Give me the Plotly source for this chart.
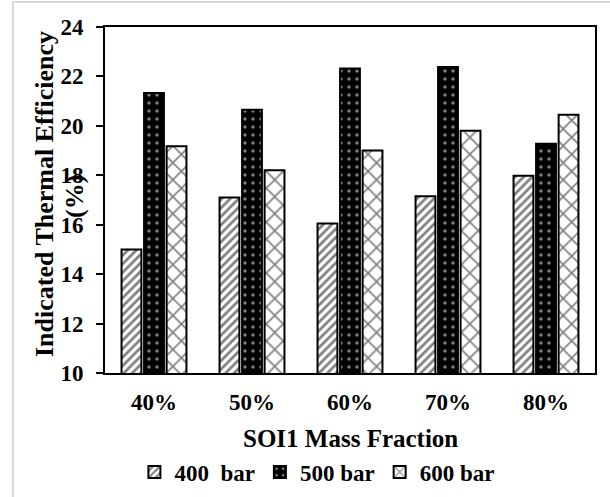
import plotly.graph_objects as go

categories = ["40%", "50%", "60%", "70%", "80%"]
series_names = ["400\u00a0\u00a0bar", "500 bar", "600 bar"]
values_400 = [15.0, 17.1, 16.05, 17.15, 17.98]
values_500 = [21.33, 20.65, 22.32, 22.38, 19.28]
values_600 = [19.17, 18.2, 19.0, 19.8, 20.45]
y_ticks = [10, 12, 14, 16, 18, 20, 22, 24]

FONT = "Liberation Serif, Times New Roman, serif"

fig = go.Figure()
fig.add_trace(go.Bar(
    x=categories, y=values_400, name=series_names[0],
    marker=dict(color="white", line=dict(color="black", width=2),
                pattern=dict(shape="/", fgcolor="black", bgcolor="white", size=6, solidity=0.45)),
))
fig.add_trace(go.Bar(
    x=categories, y=values_500, name=series_names[1],
    marker=dict(color="black", line=dict(color="black", width=2),
                pattern=dict(shape=".", fgcolor="white", bgcolor="black", size=8, solidity=0.15)),
))
fig.add_trace(go.Bar(
    x=categories, y=values_600, name=series_names[2],
    marker=dict(color="white", line=dict(color="black", width=2),
                pattern=dict(shape="x", fgcolor="black", bgcolor="white", size=12, solidity=0.25)),
))

fig.update_layout(
    width=610, height=497,
    margin=dict(l=105, r=15, t=27, b=124, autoexpand=False),
    paper_bgcolor="white", plot_bgcolor="white",
    barmode="group", bargap=0.31, bargroupgap=0.12,
    font=dict(family=FONT, size=23, color="black", weight="bold"),
    showlegend=True,
    legend=dict(orientation="h", x=0.06, xanchor="left", y=-0.286, yanchor="middle",
                font=dict(family=FONT, size=23, color="black", weight="bold"),
                bgcolor="rgba(0,0,0,0)", itemwidth=30, tracegroupgap=0),
    xaxis=dict(showline=True, linecolor="black", linewidth=2, mirror=True,
               ticks="", showgrid=False, automargin=False,
               tickfont=dict(family=FONT, size=23, color="black", weight="bold"),
               ticklabelstandoff=7),
    yaxis=dict(range=[10, 24], tickvals=y_ticks, showline=True, linecolor="black",
               linewidth=2, mirror=True, ticks="outside", ticklen=7, tickwidth=1.5,
               tickcolor="black", showgrid=False, zeroline=False, automargin=False,
               tickfont=dict(family=FONT, size=23, color="black", weight="bold"),
               ticklabelstandoff=8),
    shapes=[dict(type="rect", xref="paper", yref="paper",
                 x0=(13 - 105) / 490, x1=(620 - 105) / 490,
                 y0=(373 - 510) / 346, y1=(373 - 2) / 346,
                 line=dict(color="#d9d9d9", width=2), fillcolor="rgba(0,0,0,0)",
                 layer="below")],
    annotations=[
        dict(text="Indicated Thermal Efficiency", xref="paper", yref="paper",
             x=(45 - 105) / 490, y=(373 - 194) / 346, textangle=-90,
             showarrow=False, xanchor="center", yanchor="middle",
             font=dict(family=FONT, size=26, color="black", weight="bold")),
        dict(text="(%)", xref="paper", yref="paper",
             x=(74 - 105) / 490, y=(373 - 197) / 346, textangle=-90,
             showarrow=False, xanchor="center", yanchor="middle",
             font=dict(family=FONT, size=26, color="black", weight="bold")),
        dict(text="SOI1 Mass Fraction", xref="paper", yref="paper",
             x=0.5, y=(373 - 438) / 346, showarrow=False,
             xanchor="center", yanchor="middle",
             font=dict(family=FONT, size=25, color="black", weight="bold")),
    ],
)

fig.write_html("out.html")
